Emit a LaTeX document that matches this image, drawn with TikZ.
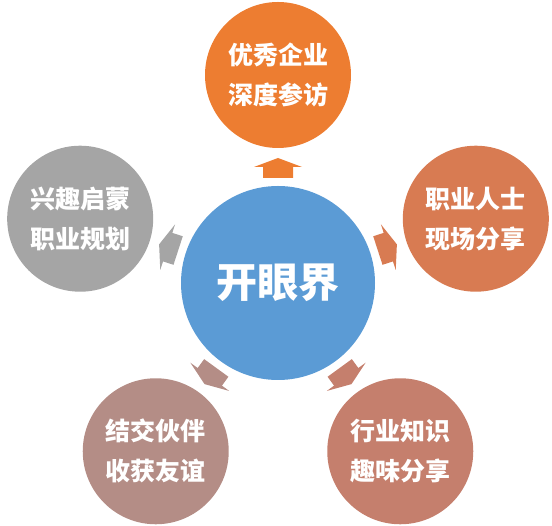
\documentclass[tikz,border=0pt]{standalone}
\usepackage{fontspec}
\newfontfamily\cjk{Noto Sans CJK SC}
\usetikzlibrary{calc}
\definecolor{cblue}{HTML}{5B9BD5}
\definecolor{cA}{HTML}{ED7D31}
\definecolor{cB}{HTML}{D87B52}
\definecolor{cC}{HTML}{C57F6D}
\definecolor{cD}{HTML}{B48D86}
\definecolor{cE}{HTML}{A5A5A5}
\begin{document}
\begin{tikzpicture}[x=1pt,y=1pt,
  hub/.style={circle, fill=cblue, minimum size=194pt, inner sep=0pt, text=white,
    font=\cjk\bfseries\fontsize{41}{41}\selectfont},
  sat/.style={circle, minimum size=146pt, inner sep=0pt, text=white, align=center,
    font=\cjk\bfseries\fontsize{25}{40}\selectfont},
  blockarrow/.style={fill=#1}
]
\useasboundingbox (0,0) rectangle (552,526);
\node[hub] (c) at (278,243) {开眼界};
\node[sat, fill=cA] (s1) at ($(c)+(90:208)$) {优秀企业\\深度参访};
\node[sat, fill=cB] (s2) at ($(c)+(18:208)$) {职业人士\\现场分享};
\node[sat, fill=cC] (s3) at ($(c)+(-54:208)$) {行业知识\\趣味分享};
\node[sat, fill=cD] (s4) at ($(c)+(-126:208)$) {结交伙伴\\收获友谊};
\node[sat, fill=cE] (s5) at ($(c)+(162:208)$) {兴趣启蒙\\职业规划};
\foreach \ang/\col in {90/cA, 18/cB, -54/cC, -126/cD, 162/cE}{
  \fill[blockarrow=\col, shift={(c.center)}, rotate=\ang]
    (105,-15) -- (116,-15) -- (116,-24) -- (125,0) -- (116,24) -- (116,15) -- (105,15) -- cycle;
}
\end{tikzpicture}
\end{document}
